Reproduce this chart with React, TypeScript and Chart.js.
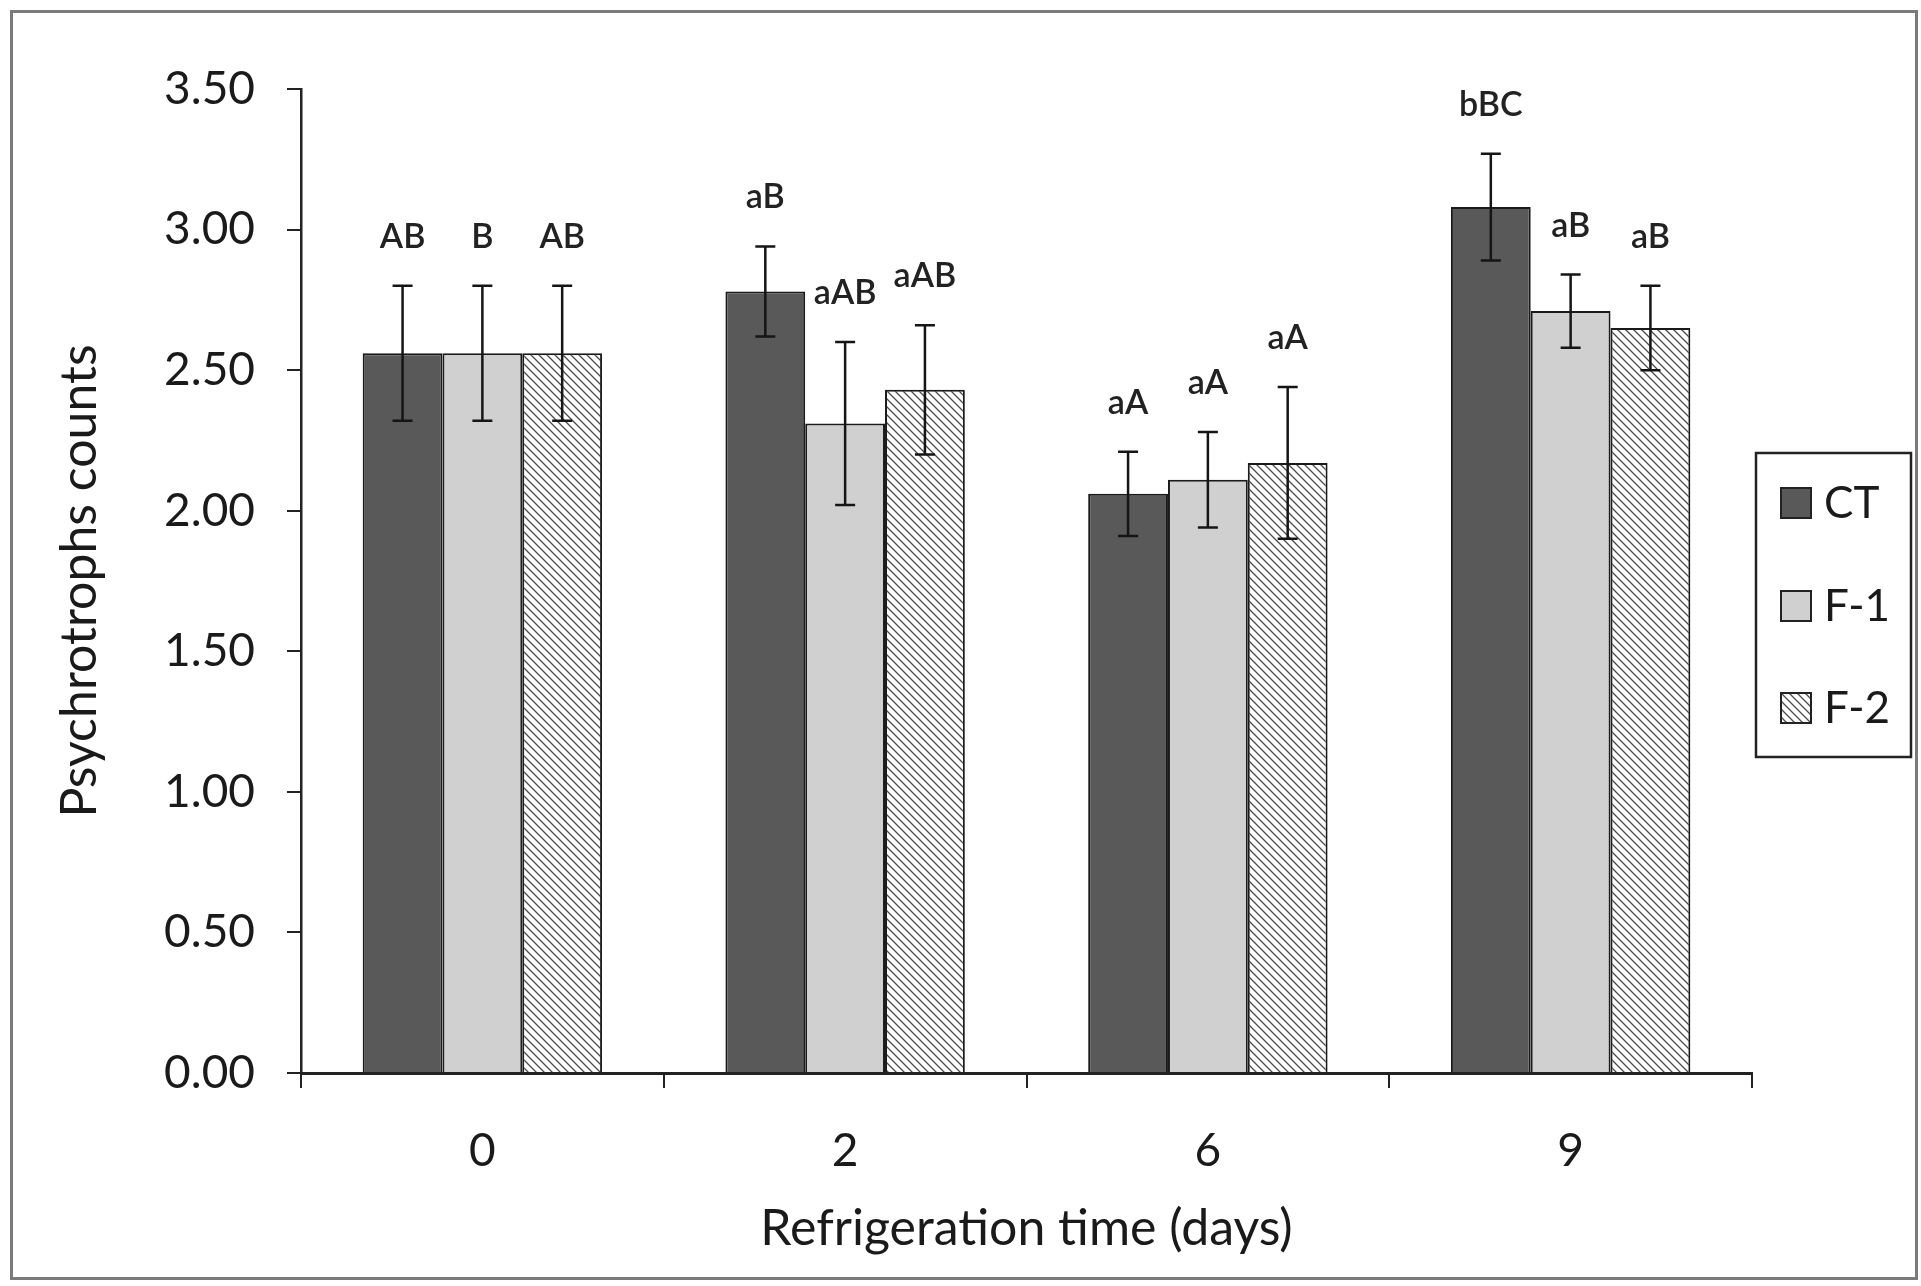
import React, { useEffect, useRef } from 'react';
import { Chart, registerables } from 'chart.js';

Chart.register(...registerables);

// ---- data ----
const categories = ['0', '2', '6', '9'];
const seriesNames = ['CT', 'F-1', 'F-2'];
const ctValues = [2.56, 2.78, 2.06, 3.08];
const f1Values = [2.56, 2.31, 2.11, 2.71];
const f2Values = [2.56, 2.43, 2.17, 2.65];
const ctErrors = [0.24, 0.16, 0.15, 0.19];
const f1Errors = [0.24, 0.29, 0.17, 0.13];
const f2Errors = [0.24, 0.23, 0.27, 0.15];
const ctLetters = ['AB', 'aB', 'aA', 'bBC'];
const f1Letters = ['B', 'aAB', 'aA', 'aB'];
const f2Letters = ['AB', 'aAB', 'aA', 'aB'];
const yMin = 0;
const yMax = 3.5;
const yStep = 0.5;
const xTitle = 'Refrigeration time (days)';
const yTitle = 'Psychrotrophs counts';

const FONT = 'Lato, "Open Sans", sans-serif';
const W = 1921;
const H = 1286;

function makeHatch(): CanvasPattern | string {
  const c = document.createElement('canvas');
  c.width = 8;
  c.height = 8;
  const g = c.getContext('2d');
  if (!g) return '#ddd';
  g.fillStyle = '#ffffff';
  g.fillRect(0, 0, 8, 8);
  g.strokeStyle = '#4a4a4a';
  g.lineWidth = 1.3;
  g.beginPath();
  g.moveTo(-1, -1);
  g.lineTo(9, 9);
  g.moveTo(-1, 7);
  g.lineTo(1, 9);
  g.moveTo(7, -1);
  g.lineTo(9, 1);
  g.stroke();
  const p = g.createPattern(c, 'repeat');
  return p || '#ddd';
}

export default function App() {
  const ref = useRef<HTMLCanvasElement | null>(null);

  useEffect(() => {
    const canvas = ref.current;
    if (!canvas) return;
    const hatch = makeHatch();
    const errors = [ctErrors, f1Errors, f2Errors];
    const letters = [ctLetters, f1Letters, f2Letters];

    const frame = {
      id: 'frame',
      beforeDraw(chart: any) {
        const { ctx } = chart;
        ctx.save();
        ctx.fillStyle = '#ffffff';
        ctx.fillRect(0, 0, W, H);
        ctx.strokeStyle = '#7a7a7a';
        ctx.lineWidth = 3;
        ctx.strokeRect(11.5, 11.5, 1905, 1267);
        ctx.restore();
      },
    };

    const errorBars = {
      id: 'errorBars',
      afterDatasetsDraw(chart: any) {
        const { ctx } = chart;
        const y = chart.scales.y;
        ctx.save();
        chart.data.datasets.forEach((ds: any, di: number) => {
          const meta = chart.getDatasetMeta(di);
          meta.data.forEach((bar: any, i: number) => {
            const v = ds.data[i];
            const e = errors[di][i];
            const x = bar.x;
            const yt = y.getPixelForValue(v + e);
            const yb = y.getPixelForValue(v - e);
            ctx.strokeStyle = '#151515';
            ctx.lineWidth = 2.5;
            ctx.beginPath();
            ctx.moveTo(x, yt);
            ctx.lineTo(x, yb);
            ctx.moveTo(x - 10, yt);
            ctx.lineTo(x + 10, yt);
            ctx.moveTo(x - 10, yb);
            ctx.lineTo(x + 10, yb);
            ctx.stroke();
            ctx.fillStyle = '#222';
            ctx.font = `600 34px ${FONT}`;
            ctx.textAlign = 'center';
            ctx.textBaseline = 'middle';
            ctx.fillText(letters[di][i], x, yt - 49);
          });
        });
        ctx.restore();
      },
    };

    const boxLegend = {
      id: 'boxLegend',
      afterDraw(chart: any) {
        const { ctx } = chart;
        ctx.save();
        ctx.strokeStyle = '#222';
        ctx.lineWidth = 2.5;
        ctx.strokeRect(1756, 453, 155, 304);
        const centers = [503, 606, 708];
        chart.data.datasets.forEach((ds: any, di: number) => {
          const cy = centers[di];
          ctx.fillStyle = ds.backgroundColor;
          ctx.fillRect(1781, cy - 15, 30, 30);
          ctx.strokeStyle = '#222';
          ctx.lineWidth = 2;
          ctx.strokeRect(1781, cy - 15, 30, 30);
          ctx.fillStyle = '#1a1a1a';
          ctx.font = `44px ${FONT}`;
          ctx.textAlign = 'left';
          ctx.textBaseline = 'middle';
          ctx.fillText(ds.label, 1824, cy + 1);
        });
        ctx.restore();
      },
    };

    const chart = new Chart(canvas, {
      type: 'bar',
      data: {
        labels: categories,
        datasets: [
          { label: seriesNames[0], data: ctValues, backgroundColor: '#595959', borderColor: '#1a1a1a', borderWidth: 2 },
          { label: seriesNames[1], data: f1Values, backgroundColor: '#d0d0d0', borderColor: '#1a1a1a', borderWidth: 2 },
          { label: seriesNames[2], data: f2Values, backgroundColor: hatch as any, borderColor: '#1a1a1a', borderWidth: 2 },
        ],
      },
      options: {
        responsive: false,
        animation: false,
        devicePixelRatio: 1,
        layout: { padding: { left: 0, right: 169, top: 89, bottom: 0 } },
        datasets: { bar: { categoryPercentage: 0.66, barPercentage: 1.0 } },
        plugins: {
          legend: { display: false },
          tooltip: { enabled: false },
        },
        scales: {
          x: {
            offset: true,
            afterFit: (s: any) => { s.height = H - 1073; },
            grid: {
              offset: true,
              drawOnChartArea: false,
              drawTicks: true,
              tickLength: 15,
              color: '#222',
              lineWidth: 2,
            },
            border: { display: true, color: '#222', width: 3 },
            ticks: {
              color: '#1a1a1a',
              font: { family: FONT, size: 46 },
              padding: 36,
            },
            title: {
              display: true,
              text: xTitle,
              color: '#1a1a1a',
              font: { family: FONT, size: 50 },
              padding: { top: 0, bottom: 27 },
            },
          },
          y: {
            min: yMin,
            max: yMax,
            afterFit: (s: any) => { s.width = 301; },
            grid: {
              drawOnChartArea: false,
              drawTicks: true,
              tickLength: 14,
              color: '#222',
              lineWidth: 2,
            },
            border: { display: true, color: '#222', width: 2.5 },
            ticks: {
              stepSize: yStep,
              color: '#1a1a1a',
              font: { family: FONT, size: 46 },
              padding: 32,
              callback: (v: any) => Number(v).toFixed(2),
            },
            title: {
              display: true,
              text: yTitle,
              color: '#1a1a1a',
              font: { family: FONT, size: 50 },
              padding: { top: 50, bottom: 0 },
            },
          },
        },
      },
      plugins: [frame, errorBars, boxLegend],
    });

    return () => chart.destroy();
  }, []);

  return (
    <div style={{ position: 'fixed', left: 0, top: 0, width: W, height: H, background: '#fff' }}>
      <canvas ref={ref} width={W} height={H} style={{ display: 'block', width: W, height: H }} />
    </div>
  );
}
